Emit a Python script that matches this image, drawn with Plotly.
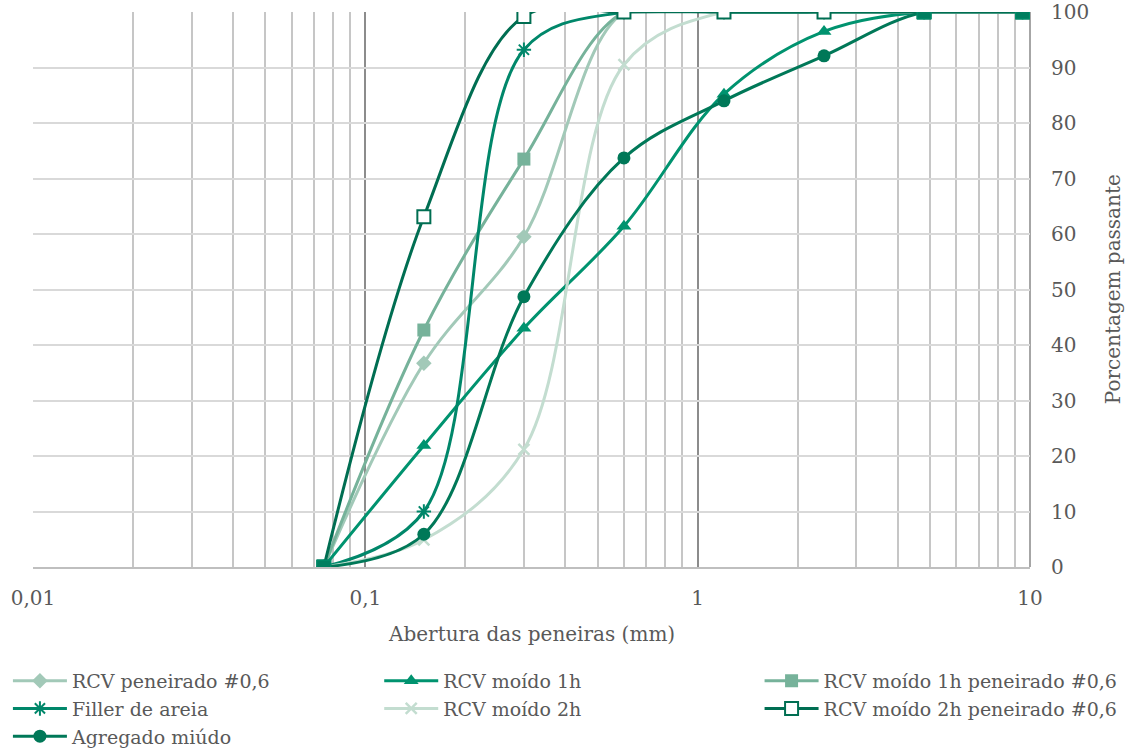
import plotly.graph_objects as go

# Sieve openings (mm)
sieves = [0.075, 0.15, 0.3, 0.6, 1.2, 2.4, 4.8, 9.5]

# Percent passing for each material
rcv_peneirado = [0, 36.7, 59.5, 100, 100, 100, 100, 100]
rcv_moido_1h = [0, 21.9, 43.0, 61.4, 85.2, 96.5, 100, 100]
rcv_moido_1h_pen = [0, 42.7, 73.5, 100, 100, 100, 100, 100]
filler_areia = [0, 10.0, 93.2, 100, 100, 100, 100, 100]
rcv_moido_2h = [0, 4.9, 21.2, 90.5, 100, 100, 100, 100]
rcv_moido_2h_pen = [0, 63.1, 99.2, 100, 100, 100, 100, 100]
agregado_miudo = [0, 5.9, 48.7, 73.7, 84.0, 92.1, 100, 100]

names = [
    "RCV peneirado #0,6",
    "RCV moído 1h",
    "RCV moído 1h peneirado #0,6",
    "Filler de areia",
    "RCV moído 2h",
    "RCV moído 2h peneirado #0,6",
    "Agregado miúdo",
]

FONT = "DejaVu Serif"
TXT = "#595959"

fig = go.Figure()


def add(name, y, color, marker, legend):
    fig.add_trace(go.Scatter(
        x=sieves, y=y, name=name, mode="lines+markers", legend=legend,
        line=dict(color=color, width=3, shape="spline", smoothing=1),
        marker=marker,
    ))


add(names[0], rcv_peneirado, "#a2c9b8",
    dict(symbol="diamond", size=12, color="#a2c9b8"), "legend")
add(names[1], rcv_moido_1h, "#00936f",
    dict(symbol="triangle-up", size=13, color="#00936f"), "legend2")
add(names[2], rcv_moido_1h_pen, "#76b29a",
    dict(symbol="square", size=13, color="#76b29a"), "legend3")
add(names[3], filler_areia, "#00876a",
    dict(symbol="asterisk-open", size=12, color="#00876a",
         line=dict(color="#00876a", width=2)), "legend")
add(names[4], rcv_moido_2h, "#c3ddd0",
    dict(symbol="x-thin-open", size=11, color="#c3ddd0",
         line=dict(color="#c3ddd0", width=2.5)), "legend2")
add(names[5], rcv_moido_2h_pen, "#006e52",
    dict(symbol="square", size=13, color="white",
         line=dict(color="#006e52", width=2)), "legend3")
add(names[6], agregado_miudo, "#007858",
    dict(symbol="circle", size=13, color="#007858"), "legend")

# square markers at the end points of the fine aggregate curve
ends = [0, 6, 7]
fig.add_trace(go.Scatter(
    x=[sieves[i] for i in ends], y=[agregado_miudo[i] for i in ends],
    mode="markers", showlegend=False, hoverinfo="skip",
    marker=dict(symbol="square", size=14, color="#007e5f",
                line=dict(color="#00916e", width=1)),
))

minor_vals = [m * d for d in (0.01, 0.1, 1) for m in range(2, 10)]

legend_common = dict(
    orientation="v", xref="container", yref="container",
    xanchor="left", yanchor="top", y=0.1245,
    font=dict(family=FONT, size=19, color=TXT),
    itemwidth=54, tracegroupgap=0, bgcolor="rgba(0,0,0,0)",
)

fig.update_layout(
    width=1132, height=756,
    margin=dict(l=33, r=102, t=12, b=189, autoexpand=False),
    paper_bgcolor="white", plot_bgcolor="white",
    separators=",.",
    font=dict(family=FONT, size=20, color=TXT),
    showlegend=True,
    legend=dict(legend_common, x=0.007),
    legend2=dict(legend_common, x=0.335),
    legend3=dict(legend_common, x=0.671),
    xaxis=dict(
        type="log", range=[-2, 1], dtick=1,
        showgrid=True, gridcolor="#8c8c8c", gridwidth=1.5,
        minor=dict(tickvals=minor_vals, showgrid=True,
                   gridcolor="#c6c6c6", gridwidth=2, ticks=""),
        showline=True, linecolor="#bfbfbf", linewidth=2,
        ticks="", zeroline=False, ticklabelstandoff=12,
        tickfont=dict(family=FONT, size=20, color=TXT),
    ),
    yaxis=dict(
        side="right", range=[0, 100], dtick=10,
        showgrid=True, gridcolor="#d9d9d9", gridwidth=2,
        zeroline=False, showline=False, ticks="",
        ticklabelstandoff=20,
        tickfont=dict(family=FONT, size=20, color=TXT),
    ),
    annotations=[
        dict(text="Abertura das peneiras (mm)", xref="paper", yref="paper",
             x=0.5, y=-0.12, xanchor="center", yanchor="middle",
             showarrow=False, font=dict(family=FONT, size=20, color=TXT)),
        dict(text="Porcentagem passante", xref="paper", yref="paper",
             x=1.083, y=0.5, xanchor="center", yanchor="middle", textangle=-90,
             showarrow=False, font=dict(family=FONT, size=20, color=TXT)),
    ],
)

fig.add_shape(type="line", xref="paper", yref="paper", x0=1, x1=1, y0=0, y1=1,
              line=dict(color="#a6a6a6", width=2), layer="below")

fig.write_html("out.html")
